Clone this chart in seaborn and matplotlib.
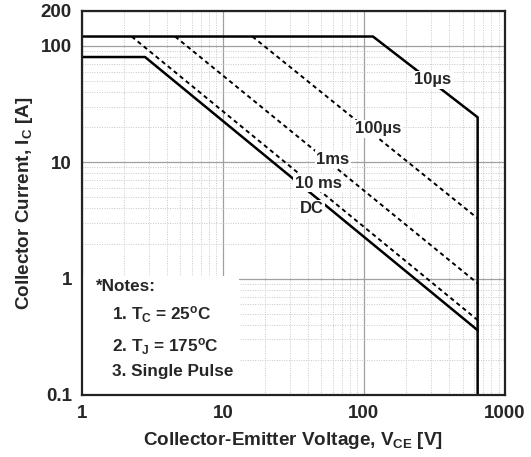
import matplotlib
matplotlib.use("Agg")
import matplotlib.pyplot as plt
import seaborn as sns
import pandas as pd
from matplotlib.ticker import FixedLocator, LogLocator, NullFormatter, FixedFormatter

# ---- data ----
vce_10us = [1, 116, 640, 640]
ic_10us = [120, 120, 24.3, 0.1]
vce_dc = [1, 2.81, 640]
ic_dc = [80, 80, 0.36]
vce_100us = [16.2, 640]
ic_100us = [120, 3.29]
vce_1ms = [4.59, 640]
ic_1ms = [120, 0.91]
vce_10ms = [2.26, 640]
ic_10ms = [120, 0.44]

curve_labels = ["10\u00b5s", "100\u00b5s", "1ms", "10 ms", "DC"]
label_x = [309, 126, 60.4, 47.3, 42.9]
label_y = [50.8, 19.3, 10.6, 6.62, 3.96]

x_ticks = [1, 10, 100, 1000]
x_ticklabels = ["1", "10", "100", "1000"]
y_ticks = [0.1, 1, 10, 100, 200]
y_ticklabels = ["0.1", "1", "10", "100", "200"]

notes = ["*Notes:", "1. T$_\\mathregular{C}$ = 25$^\\mathregular{o}$C",
         "2. T$_\\mathregular{J}$ = 175$^\\mathregular{o}$C", "3. Single Pulse"]

sns.set_style("white")
plt.rcParams["font.family"] = ["Liberation Sans", "DejaVu Sans"]
plt.rcParams["font.weight"] = "bold"
plt.rcParams["mathtext.fontset"] = "custom"
plt.rcParams["mathtext.rm"] = "Liberation Sans:bold"
plt.rcParams["mathtext.bf"] = "Liberation Sans:bold"
plt.rcParams["mathtext.default"] = "bf"

fig = plt.figure(figsize=(5.31, 4.57), dpi=100)
ax = fig.add_axes([0.1539, 0.1357, 0.7971, 0.8409])
ax.set_xscale("log")
ax.set_yscale("log")
ax.set_xlim(1, 1000)
ax.set_ylim(0.1, 200)

# grid
ax.grid(True, which="major", color="#a0a0a0", lw=0.9, ls="-", zorder=0)
ax.grid(True, which="minor", color="#c8c8c8", lw=0.7, ls=(0, (1, 1.5)), zorder=0)
ax.xaxis.set_minor_locator(LogLocator(base=10, subs=range(2, 10)))
ax.yaxis.set_minor_locator(LogLocator(base=10, subs=range(2, 10)))
ax.xaxis.set_minor_formatter(NullFormatter())
ax.yaxis.set_minor_formatter(NullFormatter())

# notes box (hides grid)
ax.add_patch(plt.Rectangle((0, 0), 0.372, 0.31, transform=ax.transAxes,
                           facecolor="white", edgecolor="none", zorder=1))

def draw(xs, ys, dashed, lw):
    df = pd.DataFrame({"x": xs, "y": ys})
    sns.lineplot(data=df, x="x", y="y", ax=ax, sort=False, estimator=None,
                 color="black", lw=lw,
                 linestyle=(0, (2.2, 1.8)) if dashed else "-", zorder=3)

draw(vce_10us, ic_10us, False, 1.8)
draw(vce_dc, ic_dc, False, 1.8)
draw(vce_100us, ic_100us, True, 1.4)
draw(vce_1ms, ic_1ms, True, 1.4)
draw(vce_10ms, ic_10ms, True, 1.4)

for t, lx, ly in zip(curve_labels, label_x, label_y):
    ax.text(lx, ly, t, ha="center", va="center", fontsize=12, fontweight="bold",
            zorder=4, bbox=dict(facecolor="white", edgecolor="none", pad=1.0))

ny = [0.281, 0.208, 0.125, 0.06]
nx = [0.034, 0.072, 0.072, 0.072]
for t, x, y in zip(notes, nx, ny):
    ax.text(x, y, t, transform=ax.transAxes, fontsize=12.3, fontweight="bold",
            ha="left", va="center", zorder=4)

ax.xaxis.set_major_locator(FixedLocator(x_ticks))
ax.xaxis.set_major_formatter(FixedFormatter(x_ticklabels))
ax.yaxis.set_major_locator(FixedLocator(y_ticks))
ax.yaxis.set_major_formatter(FixedFormatter(y_ticklabels))
ax.tick_params(which="both", length=0, labelsize=13.5, pad=7)
for lab in ax.get_xticklabels() + ax.get_yticklabels():
    lab.set_fontweight("bold")

for s in ax.spines.values():
    s.set_visible(True)
    s.set_color("#222222")
    s.set_linewidth(1.6)
    s.set_zorder(5)

ax.set_xlabel("Collector-Emitter Voltage, V$_\\mathregular{CE}$ [V]", fontsize=13.6,
              fontweight="bold", labelpad=6)
ax.set_ylabel("Collector Current, I$_\\mathregular{C}$ [A]", fontsize=13.6,
              fontweight="bold", labelpad=4)

fig.savefig("out.png", dpi=100)
